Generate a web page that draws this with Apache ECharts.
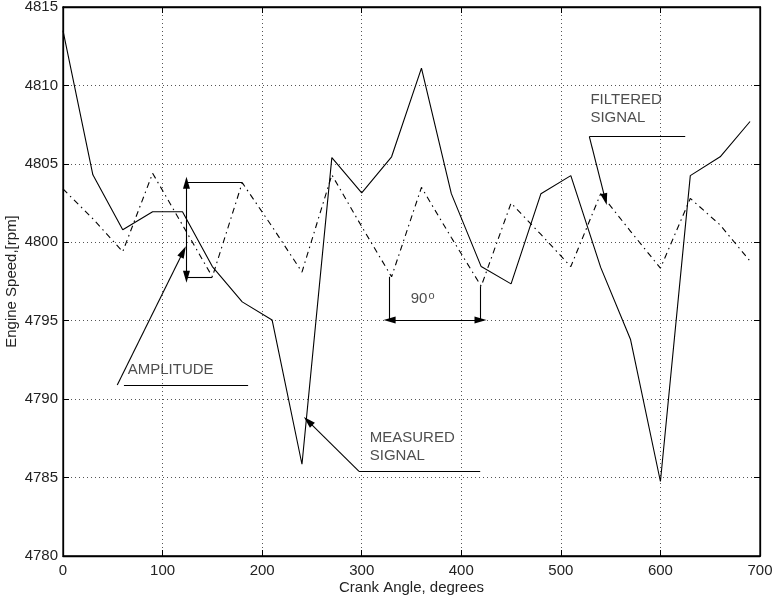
<!DOCTYPE html>
<html><head><meta charset="utf-8">
<script src="https://cdn.jsdelivr.net/npm/echarts@6/dist/echarts.min.js"></script>
<style>html,body{margin:0;padding:0;background:#fff}#c{width:773px;height:601px}</style>
</head><body><div id="c"></div>
<script>
// Crank angle (degrees)
const angles = [0,30,60,90,120,150,180,210,240,270,300,330,360,390,420,450,480,510,540,570,600,630,660,690];
// Measured signal (rpm)
const measured = [4813.5,4804.3,4800.8,4801.95,4801.95,4798.45,4796.2,4795.05,4785.85,4805.4,4803.15,4805.45,4811.1,4803.1,4798.45,4797.35,4803.1,4804.25,4798.4,4793.8,4784.75,4804.25,4805.45,4807.7];
// Filtered signal (rpm)
const filtered = [4803.4,4801.5,4799.4,4804.4,4801.1,4797.8,4803.8,4801.0,4798.1,4804.3,4801.0,4797.8,4803.5,4800.3,4797.2,4802.5,4800.5,4798.45,4803.1,4800.7,4798.35,4802.8,4801.1,4798.8];
const xTicks = [0,100,200,300,400,500,600,700];
const yTicks = [4780,4785,4790,4795,4800,4805,4810,4815];

// Annotation geometry in data coordinates
const annoLines = [
  // [x1,y1,x2,y2,startSymbol,endSymbol]
  [124,4803.8,124,4797.8,'triangle','triangle'],
  [124,4803.8,180,4803.8,'none','none'],
  [124,4797.8,150,4797.8,'none','none'],
  [54.5,4790.9,120.7,4799.4,'none','triangle'],
  [61.2,4790.9,185.9,4790.9,'none','none'],
  [297.3,4785.4,246.2,4788.6,'none','triangle'],
  [297.3,4785.4,419,4785.4,'none','none'],
  [328,4797.8,328,4795.05,'none','none'],
  [419.3,4797.2,419.3,4795.05,'none','none'],
  [328,4795.05,419.3,4795.05,'triangle','triangle'],
  [528.6,4806.73,624.9,4806.73,'none','none'],
  [528.6,4806.73,544.6,4802.74,'none','triangle']
];
const annoTexts = [
  [65.5,4791.82,'AMPLITUDE'],
  [308.6,4786.92,'MEASURED\nSIGNAL'],
  [530.2,4808.46,'FILTERED\nSIGNAL'],
  [349.7,4796.33,'90{sup|o}']
];

const FONT = 'Liberation Sans, Arial, sans-serif';
const TXT = '#222';
const chart = echarts.init(document.getElementById('c'), null, {renderer:'canvas'});

const axisCommon = {
  axisLine:{show:true,onZero:false,lineStyle:{color:'#000',width:1.3}},
  axisTick:{show:true,inside:true,length:6,lineStyle:{color:'#000'}},
};

chart.setOption({
  animation:false,
  backgroundColor:'#fff',
  grid:{left:63,right:13,top:7,bottom:45,outerBoundsMode:'none',containLabel:false,
    show:true,borderColor:'#000',borderWidth:1.3,backgroundColor:'transparent'},
  xAxis:[{
    type:'value',min:0,max:700,interval:100,position:'bottom',
    ...axisCommon,
    name:'Crank Angle, degrees',nameLocation:'middle',nameGap:24,nameMoveOverlap:false,
    nameTextStyle:{fontFamily:FONT,fontSize:15,color:TXT},
    axisLabel:{margin:7,fontFamily:FONT,fontSize:15,color:TXT,
      formatter:v=>xTicks.includes(v)?String(v):''},
    splitLine:{show:true,lineStyle:{color:'#555',width:1,type:[1,3]}}
  },{
    type:'value',min:0,max:700,interval:100,position:'top',
    ...axisCommon,axisLabel:{show:false},splitLine:{show:false}
  }],
  yAxis:[{
    type:'value',min:4780,max:4815,interval:5,position:'left',
    ...axisCommon,
    name:'Engine Speed,[rpm]',nameLocation:'middle',nameGap:44,nameMoveOverlap:false,
    nameTextStyle:{fontFamily:FONT,fontSize:15,color:TXT},
    axisLabel:{margin:5,fontFamily:FONT,fontSize:15,color:TXT,
      formatter:v=>yTicks.includes(v)?String(v):''},
    splitLine:{show:true,lineStyle:{color:'#555',width:1,type:[1,3]}}
  },{
    type:'value',min:4780,max:4815,interval:5,position:'right',
    ...axisCommon,axisLabel:{show:false},splitLine:{show:false}
  }],
  series:[{
    name:'Measured',type:'line',showSymbol:false,silent:true,
    data:angles.map((a,i)=>[a,measured[i]]),
    lineStyle:{color:'#000',width:1.1,type:'solid'}
  },{
    name:'Filtered',type:'line',showSymbol:false,silent:true,
    data:angles.map((a,i)=>[a,filtered[i]]),
    lineStyle:{color:'#000',width:1.1,type:[6,4,1.5,4]},
    markLine:{
      silent:true,animation:false,
      label:{show:false},emphasis:{disabled:true},
      lineStyle:{color:'#000',width:1.1,type:'solid'},
      symbolSize:[7,12],
      data:annoLines.map(l=>[
        {coord:[l[0],l[1]],symbol:l[4],symbolSize:[7,12]},
        {coord:[l[2],l[3]],symbol:l[5],symbolSize:[7,12]}
      ])
    }
  },{
    name:'Annotations',type:'scatter',silent:true,symbolSize:1,
    itemStyle:{color:'rgba(0,0,0,0)'},
    data:annoTexts.map(t=>[t[0],t[1],t[2]]),
    label:{show:true,position:[0,0],align:'left',verticalAlign:'middle',
      fontFamily:FONT,fontSize:15,color:TXT,lineHeight:18.5,
      formatter:p=>p.value[2],
      rich:{sup:{fontFamily:FONT,fontSize:11,color:TXT,verticalAlign:'top',padding:[0,0,10,1]}}
    }
  }]
});
</script></body></html>
